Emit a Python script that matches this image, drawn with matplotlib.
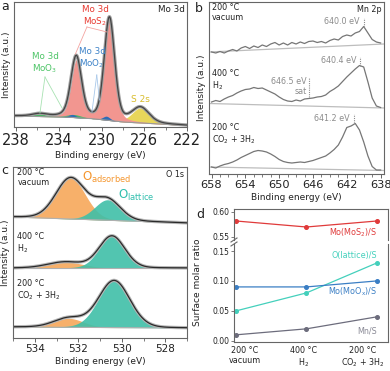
import numpy as np
import matplotlib
matplotlib.use("Agg")
import matplotlib.pyplot as plt
import matplotlib.transforms as mtransforms
from matplotlib.lines import Line2D

plt.rcParams['font.family'] = 'DejaVu Sans'
plt.rcParams['mathtext.default'] = 'regular'

W, H = 390, 371

# ---- panel a: Mo 3d fit components (centre eV, height, fwhm) ----
mo_bg_ev = [238.2, 233.5, 231.0, 228.0, 222.0]
mo_bg = [11, 10, 8.5, 5, 1.5]
mos2_pos = [232.35, 229.25]
mos2_amp = [57, 100]
mos2_fwhm = [1.15, 1.15]
moo2_pos = [232.75, 229.55]
moo2_amp = [3, 4]
moo2_fwhm = [0.8, 0.8]
moo3_pos = [235.8, 232.6]
moo3_amp = [2.5, 3]
moo3_fwhm = [1.6, 1.6]
s2s_pos = [226.35]
s2s_amp = [15]
s2s_fwhm = [1.9]

# ---- panel b: Mn 2p spectra, 658 -> 638 eV in 0.5 eV steps ----
mn_ev = np.arange(658.0, 637.75, -0.5)
mn_vacuum = [122, 121, 122.5, 121, 123, 124.5, 123, 126, 127.5, 125.5,
             128, 126.5, 129, 127.5, 130, 131.5, 129, 131, 129, 131.5,
             130, 132, 130.5, 132.5, 133, 131.5, 132.5, 131, 133.5, 135,
             134, 137.5, 139, 138, 141, 142.5, 147.5, 141, 134.5, 132, 131]
mn_h2 = [72, 73.5, 72.5, 75, 77, 78.5, 81, 83, 84.5, 85,
         86.5, 85.5, 86, 84, 82, 80, 77, 74.5, 73, 72.5,
         74, 73, 75, 75.5, 76, 77, 77.5, 79, 82.5, 85,
         88, 92.5, 97, 101, 105, 108.5, 107, 92, 76, 68, 66.5]
mn_co2 = [7, 6, 8, 9.5, 10.5, 12, 14, 16.5, 18.5, 20.5,
          22.5, 23.5, 23, 22, 20, 17.5, 14.5, 12.5, 11.5, 11,
          11.5, 12, 11.5, 12.5, 13.5, 15, 16.5, 18, 21, 24.5,
          29, 37, 46.5, 48, 50.5, 44, 32, 18, 7.5, 4, 4]
mn_bg_left = [122, 70.5, 7]
mn_bg_right = [130, 66, 3.5]
mn_peak_ev = [640.0, 640.4, 641.2]
mn_peak_val = [147.5, 108.5, 50.5]
mn_peak_txt = ["640.0 eV", "640.4 eV", "641.2 eV"]
mn_sat_ev = 646.5

# ---- panel c: O 1s fit components ----
o_bg_left = [121, 70, 11]
o_bg_right = [115, 70, 10]
oads_pos = [532.35, 532.6, 532.45]
oads_amp = [41, 6, 9]
oads_fwhm = [1.6, 1.9, 1.6]
olat_pos = [530.65, 530.45, 530.35]
olat_amp = [20.5, 32, 47]
olat_fwhm = [1.4, 1.4, 1.7]

# ---- panel d: surface molar ratios ----
conditions = ["200 °C\nvacuum", "400 °C\nH$_2$", "200 °C\nCO$_2$ + 3H$_2$"]
mos2_ratio = [0.582, 0.570, 0.582]
olat_ratio = [0.05, 0.08, 0.13]
moox_ratio = [0.09, 0.09, 0.10]
mn_ratio = [0.01, 0.02, 0.04]

c_mos2 = "#f29690"
c_red = "#e8382f"
c_moo2 = "#2f6db6"
c_blue = "#3d82c8"
c_moo3 = "#48b862"
c_green = "#4cc466"
c_s2s = "#e8d65a"
c_yel = "#d8bc2a"
c_orange = "#f7b06a"
c_orange_t = "#f5962e"
c_teal = "#3fbfa8"
c_teal_t = "#30bfae"
c_spine = "#666666"
c_text = "#222222"


def pv(x, pos, amp, fwhm, eta=0.3):
    out = np.zeros_like(x)
    for p, a, w in zip(pos, amp, fwhm):
        g = np.exp(-4 * np.log(2) * ((x - p) / w) ** 2)
        l = 1 / (1 + 4 * ((x - p) / w) ** 2)
        out += a * ((1 - eta) * g + eta * l)
    return out


def box(x0, y0, x1, y1):
    return [x0 / W, 1 - y1 / H, (x1 - x0) / W, (y1 - y0) / H]


def style(ax, tick_size):
    for s in ax.spines.values():
        s.set_color(c_spine)
        s.set_linewidth(0.8)
    ax.set_yticks([])
    ax.tick_params(axis='x', which='major', direction='out', length=3, width=0.7,
                   color=c_spine, labelsize=tick_size, pad=1.5, labelcolor=c_text)
    ax.tick_params(axis='x', which='minor', direction='out', length=2, width=0.6,
                   color=c_spine)


fig = plt.figure(figsize=(W / 100, H / 100), dpi=100)

# ================= panel a =================
axa = fig.add_axes(box(14, 2, 187, 127))
xa = np.linspace(238.2, 222, 700)
bga = np.interp(xa, mo_bg_ev[::-1], mo_bg[::-1])
s2s = pv(xa, s2s_pos, s2s_amp, s2s_fwhm)
mos2 = pv(xa, mos2_pos, mos2_amp, mos2_fwhm)
moo3 = pv(xa, moo3_pos, moo3_amp, moo3_fwhm)
moo2 = pv(xa, moo2_pos, moo2_amp, moo2_fwhm)
axa.fill_between(xa, bga, bga + s2s, color=c_s2s, lw=0)
axa.fill_between(xa, bga, bga + mos2, color=c_mos2, lw=0)
axa.fill_between(xa, bga, bga + moo3, color=c_moo3, lw=0)
axa.fill_between(xa, bga, bga + moo2, color=c_moo2, lw=0)
enva = bga + s2s + mos2 + moo3 + moo2
axa.plot(xa, bga, color="#9a9a9a", lw=0.8)
axa.plot(xa, enva, color="#a0a0a0", lw=2.4)
axa.plot(xa, enva, color="#444444", lw=0.9)
# label leader lines
for end in [(232.45, 73), (229.49, 95)]:
    axa.plot([231.37, end[0]], [100, end[1]], color="#f4a4a0", lw=0.6)
for end in [(230.9, 15), (230.2, 27)]:
    axa.plot([230.45, end[0]], [52, end[1]], color="#a8c8ea", lw=0.6)
for end in [(235.77, 14), (233.7, 19)]:
    axa.plot([235.3, end[0]], [50, end[1]], color="#a8e2b2", lw=0.6)
axa.text(230.6, 110.5, "Mo 3d\nMoS$_2$", color=c_red, fontsize=6.3, ha='center', va='center', linespacing=1.2)
axa.text(230.9, 68.5, "Mo 3d\nMoO$_2$", color=c_blue, fontsize=6.3, ha='center', va='center', linespacing=1.2)
axa.text(235.3, 63.5, "Mo 3d\nMoO$_3$", color=c_green, fontsize=6.3, ha='center', va='center', linespacing=1.2)
axa.text(226.4, 28, "S 2s", color=c_yel, fontsize=6.5, ha='center', va='center')
axa.text(0.985, 0.975, "Mo 3d", transform=axa.transAxes, fontsize=6.3, ha='right', va='top', color=c_text)
axa.set_xlim(238.2, 222)
axa.set_ylim(0, 125)
axa.set_xticks(np.arange(222, 239, 4))
axa.set_xticks(np.arange(222, 239, 2), minor=True)
style(axa, 10.5)
axa.set_xlabel("Binding energy (eV)", fontsize=6.5, labelpad=2, color=c_text)
axa.set_ylabel("Intensity (a.u.)", fontsize=6.5, labelpad=2, color=c_text)

# ================= panel b =================
axb = fig.add_axes(box(209, 2, 384, 174))
xb = [658.3, 637.6]
for spec, bl, br in zip([mn_vacuum, mn_h2, mn_co2], mn_bg_left, mn_bg_right):
    axb.plot(xb, [bl, br], color="#bdbdbd", lw=0.9)
    axb.plot(mn_ev, spec, color="#767676", lw=0.9)
for pe, pvv, txt in zip(mn_peak_ev, mn_peak_val, mn_peak_txt):
    axb.plot([pe, pe], [pvv, pvv + 9], color="#8c8c8c", lw=0.8, ls=(0, (1, 1)))
    axb.text(pe + 0.45, pvv + 5, txt, color="#8c8c8c", fontsize=5.8, ha='right', va='center')
axb.plot([mn_sat_ev, mn_sat_ev], [77, 96], color="#8c8c8c", lw=0.8, ls=(0, (1, 1)))
axb.text(mn_sat_ev + 0.25, 92, "646.5 eV", color="#8c8c8c", fontsize=5.8, ha='right', va='center')
axb.text(mn_sat_ev + 0.25, 83, "sat", color="#8c8c8c", fontsize=5.8, ha='right', va='center')
for lab, top in zip(conditions, [171, 105, 51]):
    axb.text(658.0, top, lab, fontsize=5.8, ha='left', va='top', color=c_text, linespacing=1.2)
axb.text(0.985, 0.985, "Mn 2p", transform=axb.transAxes, fontsize=5.8, ha='right', va='top', color=c_text)
axb.set_xlim(658.3, 637.6)
axb.set_ylim(0, 172)
axb.set_xticks(np.arange(638, 659, 4))
axb.set_xticks(np.arange(638, 659, 1), minor=True)
style(axb, 8.2)
axb.set_xlabel("Binding energy (eV)", fontsize=6.5, labelpad=2, color=c_text)
axb.set_ylabel("Intensity (a.u.)", fontsize=6.5, labelpad=2, color=c_text)

# ================= panel c =================
axc = fig.add_axes(box(13, 167, 187, 338))
xc = np.linspace(535, 527, 500)
for i in range(3):
    bgc = np.interp(xc, [527, 535], [o_bg_right[i], o_bg_left[i]])
    ads = pv(xc, [oads_pos[i]], [oads_amp[i]], [oads_fwhm[i]], eta=0.1)
    lat = pv(xc, [olat_pos[i]], [olat_amp[i]], [olat_fwhm[i]], eta=0.1)
    axc.fill_between(xc, bgc, bgc + ads, color=c_orange, lw=0)
    axc.fill_between(xc, bgc, bgc + lat, color=c_teal, lw=0, alpha=0.9)
    axc.plot(xc, bgc, color="#b0b0b0", lw=0.8)
    axc.plot(xc, bgc + ads + lat, color="#b5b5b5", lw=2.4)
    axc.plot(xc, bgc + ads + lat, color="#2a2a2a", lw=0.9)
for lab, top in zip(conditions, [170, 106, 59]):
    axc.text(534.8, top, lab, fontsize=5.8, ha='left', va='top', color=c_text, linespacing=1.2)
axc.text(531.83, 161, "O$_{adsorbed}$", color=c_orange_t, fontsize=8.5, ha='left', va='center')
axc.text(530.17, 143, "O$_{lattice}$", color=c_teal_t, fontsize=8.5, ha='left', va='center')
axc.text(0.985, 0.985, "O 1s", transform=axc.transAxes, fontsize=5.8, ha='right', va='top', color=c_text)
axc.set_xlim(535, 527)
axc.set_ylim(0, 171)
axc.set_xticks(np.arange(528, 535, 2))
axc.set_xticks(np.arange(527, 536, 1), minor=True)
style(axc, 7.5)
axc.set_xlabel("Binding energy (eV)", fontsize=6.5, labelpad=2, color=c_text)
axc.set_ylabel("Intensity (a.u.)", fontsize=6.5, labelpad=2, color=c_text)

# ================= panel d =================
axd_up = fig.add_axes(box(234, 209, 388, 240))
axd = fig.add_axes(box(234, 244, 388, 342))
xd = np.arange(len(conditions))
series = [(mos2_ratio, "#e03a3a"), (olat_ratio, "#44d0bc"),
          (moox_ratio, "#3a7ec4"), (mn_ratio, "#6c6c7c")]
for ax in (axd_up, axd):
    for vals, col in series:
        ax.plot(xd, vals, color=col, lw=0.9, marker='o', ms=2.6, clip_on=True)
    ax.set_xlim(-0.03, 2.16)
    ax.set_xticks([])
    for s in ax.spines.values():
        s.set_color(c_spine)
        s.set_linewidth(0.8)
    ax.tick_params(axis='y', direction='out', length=2, width=0.6, color=c_spine,
                   labelsize=5.5, pad=1.5, labelcolor=c_text)
axd_up.set_ylim(0.544, 0.606)
axd_up.set_yticks([0.55, 0.60])
axd_up.spines['bottom'].set_visible(False)
axd.set_ylim(-0.002, 0.1617)
axd.set_yticks([0.0, 0.05, 0.10, 0.15])
axd.spines['top'].set_visible(False)
axd_up.yaxis.set_major_formatter(matplotlib.ticker.FormatStrFormatter('%.2f'))
axd.yaxis.set_major_formatter(matplotlib.ticker.FormatStrFormatter('%.2f'))

axd_up.text(2, 0.558, "Mo(MoS$_2$)/S", color="#e03a3a", fontsize=5.8, ha='right', va='center')
axd.text(2, 0.142, "O(lattice)/S", color="#44d0bc", fontsize=5.8, ha='right', va='center')
axd.text(2, 0.082, "Mo(MoO$_x$)/S", color="#3a7ec4", fontsize=5.8, ha='right', va='center')
axd.text(2, 0.017, "Mn/S", color="#8a8a96", fontsize=5.8, ha='right', va='center')

for i, (lab, dx) in enumerate(zip(conditions, [6, -2, -10])):
    tr = mtransforms.offset_copy(axd.get_xaxis_transform(), fig=fig, x=dx, y=-3, units='points')
    axd.text(xd[i], 0, lab, transform=tr, ha='center', va='top', fontsize=5.8,
             linespacing=1.15, color=c_text)

# axis break marks
for yb in (240, 244):
    fig.add_artist(Line2D([231 / W, 237 / W], [1 - (yb + 2) / H, 1 - (yb - 2) / H],
                          color=c_spine, lw=0.8))
fig.text(198 / W, 1 - 282 / H, "Surface molar ratio", rotation=90, fontsize=6.5,
         ha='center', va='center', color=c_text)

# panel letters
for lab, px, py in [("a", 5, 7), ("b", 199, 8), ("c", 5, 171), ("d", 200, 215)]:
    fig.text(px / W, 1 - py / H, lab, fontsize=9, ha='center', va='center', color=c_text)

fig.savefig("out.png", dpi=100)
